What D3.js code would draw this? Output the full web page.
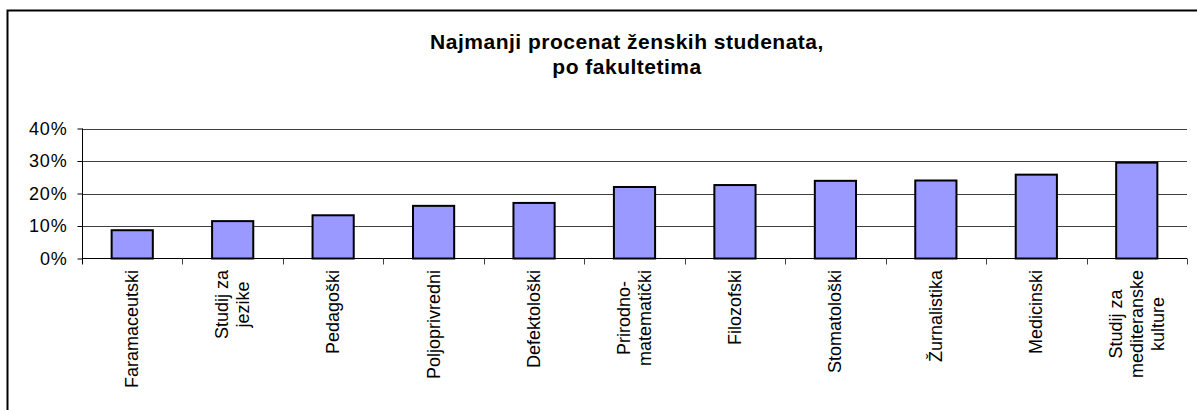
<!DOCTYPE html>
<html>
<head>
<meta charset="utf-8">
<script src="https://cdn.jsdelivr.net/npm/d3@7"></script>
<style>
  body { margin: 0; background: #fff; }
  svg { display: block; font-family: "Liberation Sans", Arial, sans-serif; }
</style>
</head>
<body>
<svg id="chart" width="1197" height="410"></svg>
<script>
// data
const faculties = [
  ["Faramaceutski"],
  ["Studij za", "jezike"],
  ["Pedagoški"],
  ["Poljoprivredni"],
  ["Defektološki"],
  ["Prirodno-", "matematički"],
  ["Filozofski"],
  ["Stomatološki"],
  ["Žurnalistika"],
  ["Medicinski"],
  ["Studij za", "mediteranske", "kulture"]
];
const shares = [0.087, 0.115, 0.133, 0.162, 0.171, 0.220, 0.226, 0.239, 0.240, 0.258, 0.295];
const yTicks = [0, 0.1, 0.2, 0.3, 0.4];
const titleLines = ["Najmanji procenat ženskih studenata,", "po fakultetima"];

const svg = d3.select("#chart");
const plot = { left: 82, right: 1187, top: 128.5, bottom: 258.5 };

// outer frame (runs off the right and bottom edge)
svg.append("rect")
  .attr("x", 7.5).attr("y", 10.5)
  .attr("width", 1300).attr("height", 500)
  .attr("fill", "none").attr("stroke", "#000").attr("stroke-width", 2);

// title
svg.append("g").selectAll("text")
  .data(titleLines)
  .enter().append("text")
    .attr("x", 627)
    .attr("y", (d, i) => 49 + i * 25)
    .attr("text-anchor", "middle")
    .style("font-size", "21px")
    .style("letter-spacing", "0.5px")
    .style("font-weight", "bold")
    .text(d => d);

const keys = faculties.map(d => d.join(" "));
const x = d3.scaleBand().domain(keys).range([plot.left, plot.right])
  .paddingInner(0.59).paddingOuter(0.295);
const edge = d3.scaleLinear().domain([0, keys.length]).range([plot.left, plot.right]);
const y = d3.scaleLinear().domain([0, 0.4]).range([plot.bottom, plot.top]);

// gridlines
svg.append("g").selectAll("line")
  .data(yTicks.slice(1))
  .enter().append("line")
    .attr("x1", plot.left).attr("x2", plot.right)
    .attr("y1", d => Math.round(y(d)) + 0.5).attr("y2", d => Math.round(y(d)) + 0.5)
    .attr("stroke", "#404040").attr("stroke-width", 1);

// bars
svg.append("g").selectAll("rect")
  .data(shares)
  .enter().append("rect")
    .attr("x", (d, i) => x(keys[i]))
    .attr("y", d => y(d))
    .attr("width", x.bandwidth())
    .attr("height", d => y(0) - y(d))
    .attr("fill", "#9999ff")
    .attr("stroke", "#000").attr("stroke-width", 2);

// y axis
const yAxis = d3.axisLeft(y).tickValues(yTicks).tickFormat(d3.format(".0%")).tickSize(5).tickPadding(10);
const ya = svg.append("g")
  .attr("transform", `translate(${plot.left + 0.5},0)`)
  .call(yAxis);
ya.select(".domain").attr("d", `M0,${plot.top}V${plot.bottom + 6}`).attr("stroke", "#000");
ya.selectAll("text")
  .style("font-size", "18px").style("letter-spacing", "0.8px")
  .style("font-family", "inherit").attr("fill", "#000");

// x axis line and category boundary ticks
svg.append("line")
  .attr("x1", plot.left).attr("x2", plot.right)
  .attr("y1", plot.bottom).attr("y2", plot.bottom)
  .attr("stroke", "#000");
svg.append("g").selectAll("line")
  .data(d3.range(1, keys.length + 1))
  .enter().append("line")
    .attr("x1", d => Math.round(edge(d)) + 0.5).attr("x2", d => Math.round(edge(d)) + 0.5)
    .attr("y1", plot.bottom).attr("y2", plot.bottom + 6)
    .attr("stroke", "#404040");

// category labels, rotated, lines centred, longest line starting at y=270
const lineGap = 21;
faculties.forEach((lines, i) => {
  const cx = x(keys[i]) + x.bandwidth() / 2;
  const g = svg.append("g");
  const t = g.selectAll("text").data(lines).enter().append("text")
    .attr("text-anchor", "middle")
    .style("font-size", "18px")
    .text(d => d);
  const maxLen = d3.max(t.nodes(), n => n.getComputedTextLength());
  const cy = 270 + maxLen / 2;
  t.attr("transform", (d, j) => {
    const bx = cx + (j - (lines.length - 1) / 2) * lineGap + 6;
    return `translate(${bx},${cy}) rotate(-90)`;
  });
});
</script>
</body>
</html>
